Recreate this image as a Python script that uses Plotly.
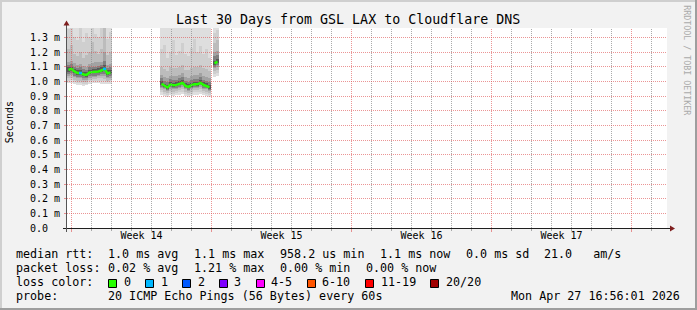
import numpy as np
import pandas as pd
import plotly.graph_objects as go

# ---------------- text ----------------
TITLE = "Last 30 Days from GSL LAX to Cloudflare DNS"
Y_TITLE = "Seconds"
WATERMARK = "RRDTOOL / TOBI OETIKER"

# ---------------- axes ----------------
x_start = "2026-03-29 18:36"
x_days = 30
week_starts = ["2026-03-30", "2026-04-06", "2026-04-13", "2026-04-20"]
week_labels = ["Week 14", "Week 15", "Week 16", "Week 17"]
y_max_ms = 1.364
ytick_ms = [0.0, 0.1, 0.2, 0.3, 0.4, 0.5, 0.6, 0.7, 0.8, 0.9, 1.0, 1.1, 1.2, 1.3]
ytick_labels = ["0.0", "0.1 m", "0.2 m", "0.3 m", "0.4 m", "0.5 m", "0.6 m",
                "0.7 m", "0.8 m", "0.9 m", "1.0 m", "1.1 m", "1.2 m", "1.3 m"]

# ---------------- data (ms) ----------------
bin_hours = 3.6
chunk_starts = ["2026-03-29 18:36", "2026-04-03 10:12", "2026-04-06 01:48"]
chunk_sizes = [15, 17, 2]

median_ms = [1.078, 1.085, 1.068, 1.057, 1.057, 1.047, 1.044, 1.061, 1.064, 1.064, 1.068, 1.074, 1.085, 1.054, 1.061,
             0.984, 0.969, 0.958, 0.978, 0.974, 0.976, 0.982, 0.990, 0.969, 0.962, 0.974, 0.981, 0.980, 0.990, 0.976, 0.969, 0.960,
             1.123, 1.134]
loss_count = [0, 0, 0, 0, 1, 0, 0, 0, 0, 0, 0, 0, 1, 0, 0,
              0, 0, 0, 0, 0, 0, 0, 0, 0, 0, 0, 0, 0, 0, 0, 0, 0,
              0, 0]
p01_ms = [0.990, 0.990, 0.980, 0.975, 0.975, 0.970, 0.975, 0.985, 0.990, 0.990, 0.990, 0.985, 0.985, 0.980, 0.985,
          0.910, 0.900, 0.895, 0.905, 0.900, 0.905, 0.910, 0.915, 0.900, 0.895, 0.900, 0.910, 0.910, 0.915, 0.905, 0.900, 0.895,
          1.030, 1.035]
p03_ms = [1.005, 1.010, 0.995, 0.990, 0.990, 0.985, 0.985, 1.000, 1.005, 1.005, 1.005, 1.005, 1.000, 0.995, 1.000,
          0.925, 0.915, 0.910, 0.920, 0.915, 0.920, 0.925, 0.930, 0.915, 0.910, 0.915, 0.925, 0.925, 0.930, 0.920, 0.915, 0.910,
          1.050, 1.060]
p05_ms = [1.020, 1.025, 1.010, 1.000, 1.005, 0.995, 0.995, 1.010, 1.015, 1.015, 1.020, 1.020, 1.015, 1.005, 1.010,
          0.940, 0.930, 0.920, 0.935, 0.930, 0.935, 0.940, 0.945, 0.930, 0.920, 0.930, 0.940, 0.940, 0.945, 0.935, 0.930, 0.920,
          1.070, 1.080]
p07_ms = [1.040, 1.045, 1.030, 1.020, 1.020, 1.010, 1.010, 1.025, 1.030, 1.030, 1.035, 1.040, 1.040, 1.020, 1.025,
          0.955, 0.945, 0.935, 0.950, 0.948, 0.950, 0.955, 0.960, 0.945, 0.935, 0.948, 0.955, 0.955, 0.962, 0.950, 0.945, 0.935,
          1.090, 1.100]
p08_ms = [1.050, 1.055, 1.040, 1.030, 1.030, 1.020, 1.020, 1.035, 1.040, 1.040, 1.045, 1.050, 1.050, 1.030, 1.035,
          0.965, 0.952, 0.942, 0.960, 0.956, 0.958, 0.964, 0.972, 0.952, 0.944, 0.956, 0.964, 0.963, 0.972, 0.958, 0.952, 0.943,
          1.100, 1.110]
p09_ms = [1.065, 1.070, 1.055, 1.045, 1.045, 1.035, 1.030, 1.050, 1.055, 1.055, 1.058, 1.062, 1.070, 1.045, 1.050,
          0.975, 0.961, 0.950, 0.969, 0.965, 0.967, 0.973, 0.981, 0.960, 0.953, 0.965, 0.972, 0.971, 0.981, 0.967, 0.960, 0.951,
          1.112, 1.122]
p12_ms = [1.095, 1.100, 1.085, 1.075, 1.078, 1.065, 1.065, 1.080, 1.083, 1.085, 1.090, 1.095, 1.110, 1.075, 1.080,
          1.000, 0.985, 0.975, 0.995, 0.990, 0.993, 1.000, 1.008, 0.987, 0.980, 0.990, 0.998, 0.997, 1.008, 0.993, 0.986, 0.977,
          1.140, 1.150]
p13_ms = [1.110, 1.120, 1.100, 1.090, 1.095, 1.085, 1.080, 1.095, 1.100, 1.100, 1.105, 1.110, 1.140, 1.090, 1.095,
          1.020, 1.005, 0.995, 1.015, 1.010, 1.012, 1.020, 1.030, 1.005, 0.998, 1.010, 1.018, 1.016, 1.030, 1.012, 1.005, 0.995,
          1.170, 1.180]
p14_ms = [1.130, 1.140, 1.125, 1.110, 1.120, 1.105, 1.100, 1.120, 1.125, 1.130, 1.130, 1.135, 1.200, 1.115, 1.120,
          1.045, 1.030, 1.020, 1.040, 1.035, 1.038, 1.045, 1.055, 1.030, 1.022, 1.035, 1.045, 1.042, 1.058, 1.038, 1.030, 1.020,
          1.200, 1.210]
p16_ms = [1.220, 1.250, 1.190, 1.170, 1.200, 1.160, 1.180, 1.200, 1.270, 1.210, 1.190, 1.220, 1.400, 1.180, 1.200,
          1.100, 1.085, 1.070, 1.095, 1.090, 1.090, 1.100, 1.110, 1.080, 1.075, 1.090, 1.100, 1.095, 1.115, 1.090, 1.085, 1.070,
          1.260, 1.280]
p18_ms = [1.360, 1.400, 1.300, 1.280, 1.370, 1.270, 1.330, 1.300, 1.450, 1.320, 1.300, 1.380, 1.500, 1.290, 1.340,
          1.220, 1.250, 1.160, 1.200, 1.280, 1.180, 1.210, 1.260, 1.190, 1.170, 1.230, 1.290, 1.200, 1.240, 1.190, 1.220, 1.160,
          1.330, 1.350]
p20_ms = [2.10, 2.40, 1.90, 1.80, 2.20, 1.85, 2.00, 1.95, 2.60, 2.05, 1.90, 2.30, 3.10, 1.85, 2.00,
          1.75, 1.80, 1.70, 1.85, 1.90, 1.72, 1.78, 1.95, 1.74, 1.70, 1.82, 1.98, 1.76, 1.88, 1.73, 1.79, 1.69,
          1.95, 2.05]

# ---------------- legend text ----------------
rtt_items = ["median rtt:", "1.0 ms avg", "1.1 ms max", "958.2 us min", "1.1 ms now", "0.0 ms sd", "21.0   am/s"]
loss_items = ["packet loss:", "0.02 % avg", "1.21 % max", "0.00 % min", "0.00 % now"]
loss_caption = "loss color:"
loss_labels = ["0", "1", "2", "3", "4-5", "6-10", "11-19", "20/20"]
loss_upper = [0, 1, 2, 3, 5, 10, 19, 20]
loss_colors = ["#26ff00", "#00b8ff", "#0059ff", "#7e00ff", "#ff00ff", "#ff5500", "#ff0000", "#a10000"]
probe_items = ["probe:", "20 ICMP Echo Pings (56 Bytes) every 60s"]
stamp = "Mon Apr 27 16:56:01 2026"

# ---------------- layout geometry (pixels) ----------------
W_IMG, H_IMG = 697, 310
L, T, W, H = 67, 28, 600, 200
MONO = "DejaVu Sans Mono"
BACK = "#f2f2f2"
GRID = "rgba(143,143,143,0.75)"
MGRID = "rgba(222,79,79,0.6)"
ARROW = "#7f1f1f"
AXIS = "#1f1f1f"
SMOKE_GREYS = [222, 207, 188, 162, 128, 88]

rtt_x = [16, 107.3, 194, 279.3, 380, 465.7, 544]
loss_x = [16, 107.3, 194, 279.3, 366]
box_x = [108, 145, 182, 219, 256, 307, 365, 430]
lbl_x = [123.3, 160.7, 197.3, 234, 270.7, 322, 381, 446]
probe_x = [16, 107.3]
stamp_right = 681.2
line_y = [254.3, 268.3, 282.3, 296.3]


def px_x(px):
    return (px - L) / W


def px_y(py):
    return (T + H - py) / H


# ---------------- derived series ----------------
bin_td = pd.Timedelta(hours=bin_hours)
bin_ms = bin_hours * 3600 * 1000
starts = []
chunk_id = []
for c, (cs, n) in enumerate(zip(chunk_starts, chunk_sizes)):
    t0 = pd.Timestamp(cs)
    starts += [t0 + i * bin_td for i in range(n)]
    chunk_id += [c] * n
starts = pd.DatetimeIndex(starts)
centers = starts + bin_td / 2
chunk_id = np.array(chunk_id)

t_start = pd.Timestamp(x_start)
t_end = t_start + pd.Timedelta(days=x_days)
y_max = y_max_ms * 1e-3

fig = go.Figure()

# smoke layers (outer -> inner)
layers = [(p01_ms, p20_ms), (p03_ms, p18_ms), (p05_ms, p16_ms),
          (p07_ms, p14_ms), (p08_ms, p13_ms), (p09_ms, p12_ms)]
for (lo, hi), g in zip(layers, SMOKE_GREYS):
    lo_s = np.array(lo) * 1e-3
    hi_s = np.array(hi) * 1e-3
    fig.add_trace(go.Bar(x=centers, y=hi_s - lo_s, base=lo_s, width=bin_ms,
                         marker=dict(color=f"rgb({g},{g},{g})", line=dict(width=0)),
                         hoverinfo="skip", showlegend=False))

# median line
med = np.array(median_ms) * 1e-3
mx, my = [], []
for c in range(len(chunk_sizes)):
    idx = np.where(chunk_id == c)[0]
    mx += list(centers[idx]) + [None]
    my += list(med[idx]) + [None]
fig.add_trace(go.Scatter(x=mx, y=my, mode="lines", xaxis="x2",
                         line=dict(color=loss_colors[0], width=2.5),
                         hoverinfo="skip", showlegend=False))


# loss coloured segments
def loss_index(n):
    for i, u in enumerate(loss_upper):
        if n <= u:
            return i
    return len(loss_upper) - 1


seg = {}
for i, n in enumerate(loss_count):
    if n > 0:
        k = loss_index(n)
        sx, sy = seg.setdefault(k, ([], []))
        sx += [starts[i], starts[i] + bin_td, None]
        sy += [med[i], med[i], None]
for k, (sx, sy) in seg.items():
    fig.add_trace(go.Scatter(x=sx, y=sy, mode="lines", xaxis="x2",
                             line=dict(color=loss_colors[k], width=2.5),
                             hoverinfo="skip", showlegend=False))

shapes = []
# vertical grid (daily minor, weekly major) on top of the smoke
day = t_start.ceil("D")
while day < t_end:
    major = day.weekday() == 0
    shapes.append(dict(type="line", xref="x", yref="paper", x0=day, x1=day, y0=0, y1=1,
                       layer="above",
                       line=dict(color=MGRID if major else GRID, width=1, dash="1px,1px")))
    day += pd.Timedelta(days=1)
# horizontal grid
for v in ytick_ms[1:]:
    py = T + H - v / y_max_ms * H
    yc = px_y(np.floor(py) + 0.5)
    shapes.append(dict(type="line", xref="paper", yref="paper", x0=0, x1=1, y0=yc, y1=yc,
                       layer="above", line=dict(color=MGRID, width=1, dash="1px,1px")))
# axes lines
shapes.append(dict(type="line", xref="paper", yref="paper", x0=px_x(63), x1=px_x(671),
                   y0=px_y(228.5), y1=px_y(228.5), layer="above", line=dict(color=AXIS, width=1)))
shapes.append(dict(type="line", xref="paper", yref="paper", x0=px_x(66.5), x1=px_x(66.5),
                   y0=px_y(232), y1=px_y(24), layer="above", line=dict(color="#555555", width=1)))


# arrows
def path(pts):
    return "M " + " L ".join(f"{px_x(a)},{px_y(b)}" for a, b in pts) + " Z"


shapes.append(dict(type="path", xref="paper", yref="paper", layer="above",
                   path=path([(670, 225.5), (670, 231.5), (675, 228.5)]),
                   fillcolor=ARROW, line=dict(width=0)))
shapes.append(dict(type="path", xref="paper", yref="paper", layer="above",
                   path=path([(63.5, 25.5), (69.5, 25.5), (66.5, 20.5)]),
                   fillcolor=ARROW, line=dict(width=0)))


# image border (3d shade)
def rect(x0, y0, x1, y1, color):
    return dict(type="rect", xref="paper", yref="paper", x0=px_x(x0), x1=px_x(x1),
                y0=px_y(y0), y1=px_y(y1), fillcolor=color, line=dict(width=0), layer="above")


shapes.append(rect(0, 0, W_IMG, 2, "#cfcfcf"))
shapes.append(rect(0, 0, 2, H_IMG, "#cfcfcf"))
shapes.append(rect(0, H_IMG - 2, W_IMG, H_IMG, "#9e9e9e"))
shapes.append(rect(W_IMG - 2, 0, W_IMG, H_IMG, "#9e9e9e"))
# loss colour legend boxes
for bx, col in zip(box_x, loss_colors):
    shapes.append(dict(type="rect", xref="paper", yref="paper",
                       x0=px_x(bx + 0.5), x1=px_x(bx + 8.5),
                       y0=px_y(line_y[2] - 2.8), y1=px_y(line_y[2] + 5.2),
                       fillcolor=col, line=dict(color="black", width=1), layer="above"))

annotations = []


def txt(s, x_px, y_px, size, xanchor="left", yanchor="middle", color="black", angle=0):
    annotations.append(dict(text=s.replace(" ", "\u00a0"), x=px_x(x_px), y=px_y(y_px),
                            xref="paper", yref="paper", xanchor=xanchor, yanchor=yanchor,
                            showarrow=False, borderpad=0, textangle=angle,
                            font=dict(family=MONO, size=size, color=color)))


LEG = 11.7
OFF = 0.8
for s, x in zip(rtt_items, rtt_x):
    txt(s, x - OFF, line_y[0], LEG)
for s, x in zip(loss_items, loss_x):
    txt(s, x - OFF, line_y[1], LEG)
txt(loss_caption, 16 - OFF, line_y[2], LEG)
for s, x in zip(loss_labels, lbl_x):
    txt(s, x - OFF, line_y[2], LEG)
for s, x in zip(probe_items, probe_x):
    txt(s, x - OFF, line_y[3], LEG)
txt(stamp, stamp_right, line_y[3], LEG, xanchor="right")

txt(TITLE, 347.5, 19.5, 13.3, xanchor="center")
txt(Y_TITLE, 9.7, 122.5, 10, xanchor="center", angle=-90)
txt(WATERMARK, 686.7, 60, 8.3, xanchor="center", color="#aaaaaa", angle=90)

week_mid = [pd.Timestamp(w) + pd.Timedelta(hours=84) for w in week_starts]

fig.update_layout(
    width=W_IMG, height=H_IMG,
    margin=dict(l=L, r=W_IMG - L - W, t=T, b=H_IMG - T - H, pad=0),
    paper_bgcolor=BACK, plot_bgcolor="white",
    barmode="overlay", bargap=0, showlegend=False,
    shapes=shapes, annotations=annotations,
    xaxis=dict(type="date", range=[t_start, t_end], showgrid=False, zeroline=False,
               showticklabels=False, ticks="outside", ticklen=3, tickcolor=MGRID,
               tickmode="linear", tick0=week_starts[0], dtick=7 * 86400000,
               minor=dict(ticks="outside", ticklen=2, tickcolor=GRID,
                          tick0=week_starts[0], dtick=86400000, showgrid=False),
               fixedrange=True),
    xaxis2=dict(type="date", overlaying="x", matches="x", anchor="y", side="bottom",
                range=[t_start, t_end], showgrid=False, zeroline=False, showline=False,
                tickmode="array", tickvals=week_mid, ticktext=week_labels, ticks="",
                tickfont=dict(family=MONO, size=10, color="black"), fixedrange=True),
    yaxis=dict(range=[0, y_max], showgrid=False, zeroline=False, showline=False,
               tickmode="array", tickvals=[v * 1e-3 for v in ytick_ms],
               ticktext=[t if " " in t else t + "\u00a0\u00a0" for t in ytick_labels],
               ticks="outside", ticklen=2, tickcolor=MGRID, ticklabelstandoff=2,
               tickfont=dict(family=MONO, size=10, color="black"), fixedrange=True),
)

fig.write_html("out.html", config={"displayModeBar": False})
